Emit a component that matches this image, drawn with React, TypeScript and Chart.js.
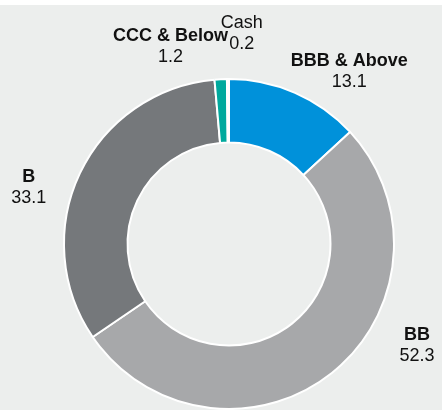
import React, { useEffect, useRef } from "react";
import { Chart, registerables } from "chart.js";

Chart.register(...registerables);

const categories = ["BBB & Above", "BB", "B", "CCC & Below", "Cash"];
const values = [13.1, 52.3, 33.1, 1.2, 0.2];
const valueLabels = ["13.1", "52.3", "33.1", "1.2", "0.2"];
const sliceColors = ["#0091da", "#a7a8aa", "#75787b", "#00a99d", "#ffffff"];
const nameBold = [true, true, true, true, false];
// label block offsets from the donut centre, in units of outer radius
const labelDx = [0.729, 1.139, -1.214, -0.355, 0.078];
const labelDy = [-1.048, 0.614, -0.34, -1.199, -1.277];

const BG = "#eceeed";
const FONT = "'Liberation Sans', Arial, sans-serif";

const bgPlugin = {
  id: "bgPlugin",
  beforeDraw(chart: any) {
    const { ctx, width, height } = chart;
    ctx.save();
    ctx.fillStyle = BG;
    ctx.fillRect(0, 0, width, height);
    ctx.fillStyle = "#ffffff";
    ctx.fillRect(0, 0, width, 5);
    ctx.restore();
  },
};

const labelPlugin = {
  id: "labelPlugin",
  afterDatasetsDraw(chart: any) {
    const { ctx } = chart;
    const meta = chart.getDatasetMeta(0);
    ctx.save();
    ctx.fillStyle = "#111111";
    ctx.textAlign = "center";
    ctx.textBaseline = "middle";
    meta.data.forEach((arc: any, i: number) => {
      const p = arc.getProps(["x", "y", "outerRadius"], true);
      const cx = p.x + labelDx[i] * p.outerRadius;
      const cy = p.y + labelDy[i] * p.outerRadius;
      ctx.font = `${nameBold[i] ? "bold " : ""}18px ${FONT}`;
      ctx.fillText(categories[i], cx, cy - 10.5);
      ctx.font = `18px ${FONT}`;
      ctx.fillText(valueLabels[i], cx, cy + 10.5);
    });
    ctx.restore();
  },
};

export default function App() {
  const ref = useRef<HTMLCanvasElement | null>(null);
  useEffect(() => {
    if (!ref.current) return;
    const chart = new Chart(ref.current, {
      type: "doughnut",
      data: {
        labels: categories,
        datasets: [
          {
            data: values,
            backgroundColor: sliceColors,
            borderColor: "#ffffff",
            borderWidth: 2,
          },
        ],
      },
      options: {
        responsive: false,
        animation: false,
        cutout: "61.5%",
        layout: { padding: { left: 63, right: 47, top: 78, bottom: 0 } },
        plugins: {
          legend: { display: false },
          tooltip: { enabled: false },
        },
      },
      plugins: [bgPlugin, labelPlugin],
    });
    return () => chart.destroy();
  }, []);
  return (
    <div style={{ position: "absolute", left: 0, top: 0, width: 442, height: 410 }}>
      <canvas ref={ref} width={442} height={410} />
    </div>
  );
}
